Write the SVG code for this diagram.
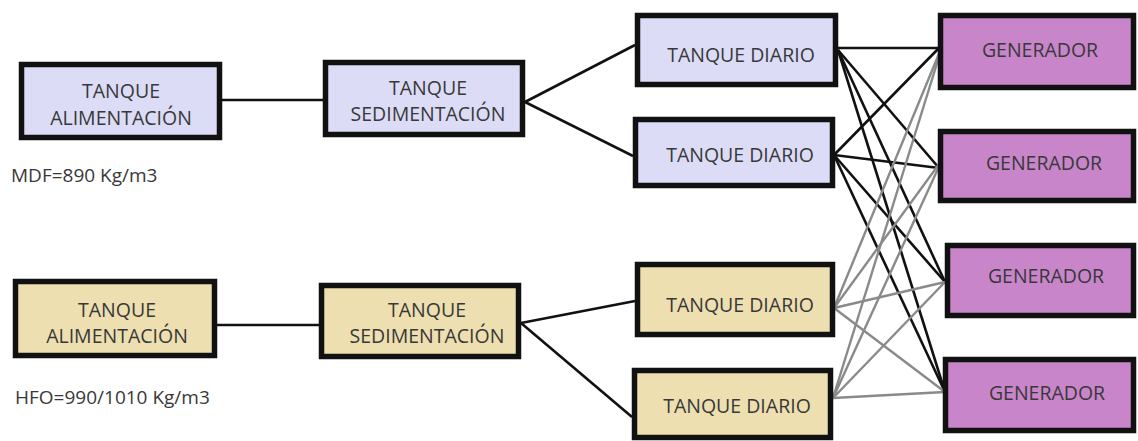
<svg xmlns="http://www.w3.org/2000/svg" width="1138" height="441" viewBox="0 0 1138 441">
<style>
  .box { stroke: #111; stroke-width: 5.5; }
  .mdf { fill: #DCDCF7; }
  .hfo { fill: #EDDFB0; }
  .gen { fill: #C985CA; }
  .lbl { font-family: "Open Sans", "Liberation Sans", sans-serif; font-size: 19.5px; fill: #383838; text-anchor: middle; }
  .note { font-family: "Open Sans", "Liberation Sans", sans-serif; font-size: 19px; fill: #383838; }
  .blk { stroke: #111; stroke-width: 2.6; fill: none; }
  .gry { stroke: #8a8a8a; stroke-width: 2.4; fill: none; }
</style>
<rect width="1138" height="441" fill="#ffffff"/>
<g id="connectors">
  <line class="blk" x1="222" y1="100" x2="323" y2="100"/>
  <line class="blk" x1="217" y1="325" x2="319" y2="325"/>
  <line class="blk" x1="525" y1="102" x2="635" y2="45"/>
  <line class="blk" x1="525" y1="102" x2="633" y2="156"/>
  <line class="blk" x1="521" y1="323" x2="635" y2="301"/>
  <line class="blk" x1="521" y1="323" x2="632" y2="417"/>
  <line class="blk" x1="838" y1="48" x2="939" y2="48"/>
  <line class="blk" x1="838" y1="50" x2="939" y2="168"/>
  <line class="blk" x1="838" y1="50" x2="945" y2="282"/>
  <line class="blk" x1="838" y1="50" x2="945" y2="392"/>
  <line class="blk" x1="834" y1="155" x2="939" y2="48"/>
  <line class="blk" x1="834" y1="155" x2="939" y2="168"/>
  <line class="blk" x1="834" y1="155" x2="945" y2="282"/>
  <line class="blk" x1="834" y1="155" x2="945" y2="392"/>
  <line class="gry" x1="834" y1="308" x2="943" y2="44"/>
  <line class="gry" x1="834" y1="308" x2="942" y2="160"/>
  <line class="gry" x1="834" y1="308" x2="945" y2="282"/>
  <line class="gry" x1="834" y1="308" x2="945" y2="392"/>
  <line class="gry" x1="833" y1="398" x2="943" y2="44"/>
  <line class="gry" x1="833" y1="398" x2="942" y2="160"/>
  <line class="gry" x1="833" y1="398" x2="945" y2="282"/>
  <line class="gry" x1="833" y1="398" x2="945" y2="392"/>
</g>
<g id="feed-mdf">
  <rect class="box mdf" x="21.5" y="64.5" width="198" height="73"/>
  <text class="lbl" x="121" y="98">TANQUE</text>
  <text class="lbl" x="121" y="125">ALIMENTACIÓN</text>
</g>
<g id="note-mdf">
  <text class="note" x="11" y="182">MDF=890 Kg/m3</text>
</g>
<g id="feed-hfo">
  <rect class="box hfo" x="15.5" y="281.5" width="199" height="74"/>
  <text class="lbl" x="117" y="317">TANQUE</text>
  <text class="lbl" x="117" y="343">ALIMENTACIÓN</text>
</g>
<g id="note-hfo">
  <text class="note" x="15" y="404">HFO=990/1010 Kg/m3</text>
</g>
<g id="sed-mdf">
  <rect class="box mdf" x="325.5" y="62.5" width="197" height="72"/>
  <text class="lbl" x="428" y="95">TANQUE</text>
  <text class="lbl" x="428" y="121">SEDIMENTACIÓN</text>
</g>
<g id="sed-hfo">
  <rect class="box hfo" x="321.5" y="285.5" width="197" height="71"/>
  <text class="lbl" x="427" y="317">TANQUE</text>
  <text class="lbl" x="427" y="343">SEDIMENTACIÓN</text>
</g>
<g id="day-mdf-1">
  <rect class="box mdf" x="637.5" y="15.5" width="198" height="69"/>
  <text class="lbl" x="741" y="62">TANQUE DIARIO</text>
</g>
<g id="day-mdf-2">
  <rect class="box mdf" x="635.5" y="119.5" width="197" height="66"/>
  <text class="lbl" x="740" y="162">TANQUE DIARIO</text>
</g>
<g id="day-hfo-1">
  <rect class="box hfo" x="637.5" y="264.5" width="195" height="70"/>
  <text class="lbl" x="740" y="312">TANQUE DIARIO</text>
</g>
<g id="day-hfo-2">
  <rect class="box hfo" x="634.5" y="370.5" width="196" height="67"/>
  <text class="lbl" x="737" y="413">TANQUE DIARIO</text>
</g>
<g id="gen-1">
  <rect class="box gen" x="940.5" y="15.5" width="193" height="72"/>
  <text class="lbl" x="1040" y="57">GENERADOR</text>
</g>
<g id="gen-2">
  <rect class="box gen" x="940.5" y="131.5" width="193" height="69"/>
  <text class="lbl" x="1044" y="170">GENERADOR</text>
</g>
<g id="gen-3">
  <rect class="box gen" x="947.5" y="245.5" width="186" height="70"/>
  <text class="lbl" x="1046" y="283">GENERADOR</text>
</g>
<g id="gen-4">
  <rect class="box gen" x="945.5" y="359.5" width="188" height="71"/>
  <text class="lbl" x="1047" y="400">GENERADOR</text>
</g>
</svg>
